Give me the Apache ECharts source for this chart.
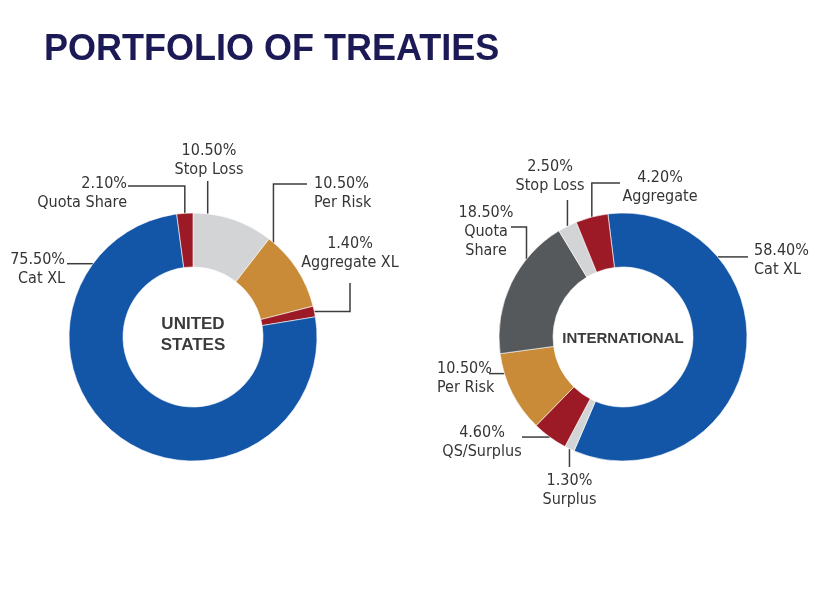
<!DOCTYPE html>
<html>
<head>
<meta charset="utf-8">
<script src="https://cdn.jsdelivr.net/npm/echarts@6/dist/echarts.min.js"></script>
<style>
  html, body { margin: 0; padding: 0; background: #fff; }
  #chart { width: 825px; height: 600px; }
</style>
</head>
<body>
<div id="chart"></div>
<script>
// data, clockwise from the start angle
const usNames = ['Stop Loss', 'Per Risk', 'Aggregate XL', 'Cat XL', 'Quota Share'];
const usValues = [10.5, 10.5, 1.4, 75.5, 2.1];
const intlNames = ['Cat XL', 'Surplus', 'QS/Surplus', 'Per Risk', 'Quota Share', 'Stop Loss', 'Aggregate'];
const intlValues = [58.4, 1.3, 4.6, 10.5, 18.5, 2.5, 4.2];

// styles
const BLUE = '#1356a8', RED = '#9c1a26', LGREY = '#d2d4d5', GOLD = '#c98b38', DGREY = '#55595c';
const usColors = [LGREY, GOLD, RED, BLUE, RED];
const intlColors = [BLUE, LGREY, RED, GOLD, DGREY, LGREY, RED];
const labelFont = "'Liberation Sans Narrow', 'DejaVu Sans Condensed', Roboto, sans-serif";
const textColor = '#353535';

// leader line guides: where on the slice (at), first leg direction, end point, label spot
const usGuides = [
  { at: 0.18, dir: 'v', to: [null, 181], label: [209, 160], align: 'center' },
  { at: 0.07, dir: 'v', to: [307, 184], label: [314, 193], align: 'left' },
  { at: 0.5, dir: 'h', to: [350, 283], label: [350, 253], align: 'center' },
  { at: 0.83, dir: 'h', to: [67, null], label: [65, 269], align: 'right' },
  { at: 0.5, dir: 'v', to: [128, 186], label: [127, 193], align: 'right' }
];
const intlGuides = [
  { at: 0.27, dir: 'h', to: [748, null], label: [754, 260], align: 'left' },
  { at: 0.5, dir: 'v', to: [null, 467], label: [null, 490], align: 'center' },
  { at: 0.5, dir: 'h', to: [522, null], label: [482, 442], align: 'center' },
  { at: 0.75, dir: 'h', to: [489, null], label: [437, 378], align: 'left' },
  { at: 0.7, dir: 'v', to: [511, 227], label: [486, 232], align: 'center', br: true },
  { at: 0.5, dir: 'v', to: [null, 200], label: [550, 176], align: 'center' },
  { at: 0.5, dir: 'v', to: [620, 183], label: [660, 187], align: 'center' }
];

const usCenter = [193, 337], intlCenter = [623, 337];
const usStart = 90, intlStart = 97;
const outerR = 124, innerR = 70;

function makeLayout(values, center, r, start, guides) {
  const total = values.reduce((a, b) => a + b, 0);
  const cum = [];
  let s = 0;
  values.forEach(v => { cum.push(s); s += v; });
  return function (params) {
    const i = params.dataIndex, g = guides[i];
    const ang = (start - 360 * (cum[i] + g.at * values[i]) / total) * Math.PI / 180;
    const ax = center[0] + r * Math.cos(ang), ay = center[1] - r * Math.sin(ang);
    const ex = g.to[0] == null ? ax : g.to[0];
    const ey = g.to[1] == null ? ay : g.to[1];
    const corner = g.dir === 'v' ? [ax, ey] : [ex, ay];
    return {
      x: g.label[0] == null ? ax : g.label[0],
      y: g.label[1],
      align: g.align,
      verticalAlign: 'middle',
      labelLinePoints: [[ax, ay], corner, [ex, ey]]
    };
  };
}

function donut(names, values, colors, center, start, guides) {
  return {
    type: 'pie',
    center: center,
    radius: [innerR, outerR],
    startAngle: start,
    clockwise: true,
    avoidLabelOverlap: false,
    silent: true,
    itemStyle: { borderColor: '#fff', borderWidth: 0.6 },
    label: {
      show: true,
      position: 'outside',
      fontFamily: labelFont,
      fontSize: 16,
      lineHeight: 19,
      color: textColor,
      formatter: function (p) {
        const n = guides[p.dataIndex].br ? p.name.replace(' ', '\n') : p.name;
        return p.value.toFixed(2) + '%\n' + n;
      }
    },
    labelLine: { show: true, lineStyle: { color: '#3d3d3d', width: 1.5 } },
    labelLayout: makeLayout(values, center, outerR, start, guides),
    data: names.map((n, i) => ({ name: n, value: values[i], itemStyle: { color: colors[i] } }))
  };
}

const chart = echarts.init(document.getElementById('chart'));
chart.setOption({
  backgroundColor: '#fff',
  animation: false,
  title: {
    text: 'PORTFOLIO OF TREATIES',
    left: 39,
    top: 27,
    textStyle: {
      fontFamily: "'Liberation Sans', Arial, sans-serif",
      fontSize: 36,
      fontWeight: 'bold',
      color: '#1c1a56'
    }
  },
  graphic: [
    {
      type: 'text', x: usCenter[0], y: usCenter[1] - 2,
      style: {
        text: 'UNITED\nSTATES', align: 'center', verticalAlign: 'middle',
        fontFamily: "'Liberation Sans', Arial, sans-serif", fontSize: 17, fontWeight: 'bold',
        lineHeight: 21, fill: '#3b3b3b'
      }
    },
    {
      type: 'text', x: intlCenter[0], y: intlCenter[1] + 2,
      style: {
        text: 'INTERNATIONAL', align: 'center', verticalAlign: 'middle',
        fontFamily: "'Liberation Sans', Arial, sans-serif", fontSize: 15, fontWeight: 'bold',
        fill: '#3b3b3b'
      }
    }
  ],
  series: [
    donut(usNames, usValues, usColors, usCenter, usStart, usGuides),
    donut(intlNames, intlValues, intlColors, intlCenter, intlStart, intlGuides)
  ]
});
</script>
</body>
</html>
